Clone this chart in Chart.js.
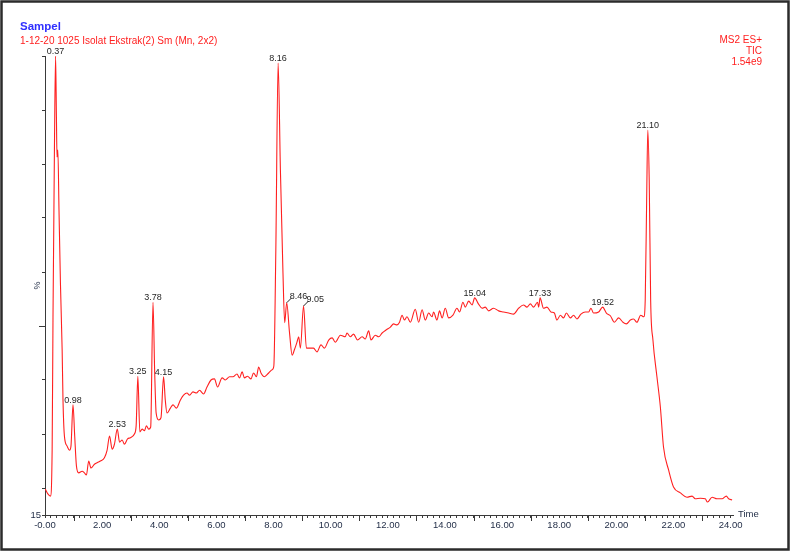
<!DOCTYPE html>
<html>
<head>
<meta charset="utf-8">
<script src="https://cdn.jsdelivr.net/npm/chart.js@4.4.1/dist/chart.umd.min.js"></script>
<style>
  body { margin: 0; background: #fff; }
  canvas { display: block; }
</style>
</head>
<body>
<canvas id="myChart" width="790" height="551"></canvas>
<script>
// retention time (min)
const times = [
  0.01, 0.10, 0.19, 0.25, 0.28, 0.33, 0.37, 0.40, 0.42, 0.45,
  0.49, 0.54, 0.60, 0.63, 0.68, 0.77, 0.86, 0.91, 0.98, 1.04,
  1.10, 1.18, 1.30, 1.38, 1.45, 1.53, 1.61, 1.73, 1.87, 1.94,
  2.08, 2.17, 2.26, 2.35, 2.43, 2.53, 2.61, 2.70, 2.78, 2.89,
  2.99, 3.13, 3.19, 3.25, 3.32, 3.40, 3.48, 3.55, 3.63, 3.70,
  3.78, 3.84, 3.89, 3.98, 4.06, 4.15, 4.21, 4.27, 4.39, 4.48,
  4.60, 4.74, 4.85, 4.97, 5.06, 5.18, 5.30, 5.41, 5.55, 5.67,
  5.81, 5.93, 6.04, 6.20, 6.31, 6.46, 6.58, 6.72, 6.81, 6.90,
  6.98, 7.09, 7.21, 7.30, 7.40, 7.48, 7.56, 7.68, 7.83, 7.95,
  8.01, 8.08, 8.16, 8.24, 8.33, 8.39, 8.46, 8.56, 8.65, 8.73,
  8.82, 8.88, 8.94, 9.05, 9.15, 9.29, 9.40, 9.52, 9.66, 9.78,
  9.93, 10.05, 10.16, 10.34, 10.51, 10.57, 10.69, 10.80, 10.94, 11.10,
  11.21, 11.33, 11.41, 11.56, 11.68, 11.80, 11.95, 12.09, 12.20, 12.32,
  12.41, 12.50, 12.58, 12.67, 12.79, 12.96, 13.08, 13.20, 13.31, 13.43,
  13.55, 13.60, 13.72, 13.81, 13.90, 14.01, 14.13, 14.28, 14.42, 14.51,
  14.63, 14.71, 14.83, 14.95, 15.04, 15.17, 15.30, 15.41, 15.53, 15.70,
  15.88, 16.05, 16.23, 16.40, 16.58, 16.75, 16.87, 16.99, 17.10, 17.24,
  17.28, 17.33, 17.45, 17.57, 17.71, 17.83, 17.92, 18.04, 18.15, 18.25,
  18.39, 18.50, 18.62, 18.76, 18.91, 19.03, 19.11, 19.20, 19.38, 19.52,
  19.65, 19.79, 19.93, 20.08, 20.23, 20.35, 20.49, 20.60, 20.72, 20.85,
  20.96, 21.01, 21.06, 21.10, 21.15, 21.20, 21.28, 21.42, 21.54, 21.65,
  21.83, 22.00, 22.24, 22.47, 22.65, 22.76, 22.94, 23.11, 23.19, 23.35,
  23.52, 23.70, 23.85, 23.93, 24.05
];
// relative intensity (%)
const intensity = [
  19.8, 18.9, 18.5, 27.0, 51.7, 82.6, 100, 88.7, 81.3, 82.6,
  71.5, 58.0, 45.6, 36.3, 29.6, 27.8, 27.0, 27.8, 35.4, 29.6,
  24.1, 22.8, 23.1, 22.8, 22.4, 25.0, 23.7, 24.4, 24.8, 25.0,
  25.6, 26.9, 29.6, 27.2, 28.1, 30.9, 28.5, 28.9, 28.1, 29.1,
  29.3, 30.0, 31.5, 40.7, 30.4, 30.9, 30.6, 31.5, 30.9, 31.3,
  54.4, 41.3, 33.9, 32.6, 33.0, 40.6, 36.3, 33.9, 34.8, 35.4,
  34.8, 36.3, 37.2, 37.6, 37.2, 37.8, 37.6, 38.1, 37.4, 38.7,
  40.0, 40.2, 38.7, 40.4, 40.0, 40.6, 40.6, 41.1, 40.4, 41.5,
  40.4, 40.7, 40.2, 41.3, 40.6, 42.4, 41.3, 40.6, 41.3, 41.9,
  42.6, 64.1, 98.7, 78.9, 59.8, 50.6, 54.3, 48.7, 44.6, 45.6,
  47.0, 48.0, 45.9, 53.7, 45.9, 45.9, 45.9, 45.2, 46.5, 45.9,
  47.4, 47.8, 47.0, 48.3, 48.0, 48.7, 48.0, 48.5, 47.4, 48.0,
  47.6, 49.1, 47.4, 48.3, 48.0, 48.7, 49.3, 49.8, 50.4, 50.2,
  50.7, 52.0, 51.1, 51.7, 50.7, 53.1, 50.7, 53.0, 51.1, 52.4,
  51.7, 52.6, 51.1, 52.8, 51.5, 53.3, 51.5, 52.0, 53.3, 52.6,
  54.4, 53.5, 54.6, 53.9, 55.2, 54.1, 53.3, 53.5, 52.8, 53.3,
  52.8, 52.6, 52.4, 52.2, 53.3, 53.9, 53.5, 54.1, 53.5, 54.4,
  53.5, 55.2, 53.3, 53.5, 52.6, 52.4, 51.1, 52.0, 51.5, 52.4,
  51.5, 52.0, 51.3, 52.2, 52.6, 52.6, 53.3, 52.4, 52.6, 53.5,
  52.4, 51.9, 50.7, 51.5, 50.7, 50.4, 51.1, 51.3, 50.7, 52.0,
  51.7, 54.8, 73.3, 86.3, 77.0, 54.8, 47.4, 40.6, 35.0, 27.6,
  23.3, 20.2, 19.1, 18.3, 18.5, 18.0, 18.1, 18.0, 17.4, 18.3,
  18.0, 18.0, 18.5, 18.0, 17.8
];

// labelled peaks
const peakLabels = ['0.37', '0.98', '2.53', '3.25', '3.78', '4.15', '8.16', '8.46', '9.05', '15.04', '17.33', '19.52', '21.10'];
const leaderPeaks = ['8.46', '9.05'];

// axis labels
const xTickLabels = ['-0.00', '2.00', '4.00', '6.00', '8.00', '10.00', '12.00', '14.00', '16.00', '18.00', '20.00', '22.00', '24.00'];
const yTickLabels = ['15'];
const headerLeft = ['Sampel', '1-12-20 1025 Isolat Ekstrak(2) Sm (Mn, 2x2)'];
const headerRight = ['MS2 ES+', 'TIC', '1.54e9'];

const FONT = "'Liberation Sans', Arial, sans-serif";
const RED = '#ff2020';
const AXIS = '#3a3a3a';
const LABEL = '#1e2a44';

const points = times.map((t, i) => ({ x: t, y: intensity[i] }));

// frame, header, peak labels, extra ticks
const decorPlugin = {
  id: 'decor',
  beforeDraw(chart) {
    const c = chart.ctx;
    c.save();
    c.fillStyle = '#fff';
    c.fillRect(0, 0, chart.width, chart.height);
    c.strokeStyle = '#2b2b2b';
    c.lineWidth = 2.5;
    c.strokeRect(1.5, 1.5, chart.width - 3, chart.height - 3);
    c.restore();
  },
  afterDraw(chart) {
    const c = chart.ctx;
    const xs = chart.scales.x, ys = chart.scales.y;
    const area = chart.chartArea;
    c.save();
    // header
    c.textBaseline = 'middle';
    c.textAlign = 'left';
    c.fillStyle = '#2f2fff';
    c.font = 'bold 11.5px ' + FONT;
    c.fillText(headerLeft[0], 20, 27);
    c.fillStyle = RED;
    c.font = '10px ' + FONT;
    c.fillText(headerLeft[1], 20, 41);
    c.textAlign = 'right';
    headerRight.forEach((s, i) => c.fillText(s, 762, 40 + i * 11));

    // longer ticks on odd minutes
    c.strokeStyle = AXIS;
    c.lineWidth = 1;
    c.beginPath();
    for (let m = 1; m <= 23; m += 2) {
      const px = Math.round(xs.getPixelForValue(m)) + 0.5;
      c.moveTo(px, area.bottom);
      c.lineTo(px, area.bottom + 6);
    }
    const p50 = Math.round(ys.getPixelForValue(50)) + 0.5;
    c.moveTo(area.left, p50);
    c.lineTo(area.left - 6, p50);
    c.stroke();

    // x axis title
    c.fillStyle = LABEL;
    c.font = '9.5px ' + FONT;
    c.textAlign = 'left';
    c.textBaseline = 'middle';
    c.fillText('Time', 738, area.bottom - 1);

    // peak labels
    c.fillStyle = '#262626';
    c.font = '9px ' + FONT;
    peakLabels.forEach(lbl => {
      const t = parseFloat(lbl);
      let best = 0;
      times.forEach((v, i) => { if (Math.abs(v - t) < Math.abs(times[best] - t)) best = i; });
      const px = xs.getPixelForValue(times[best]);
      const py = ys.getPixelForValue(intensity[best]);
      if (leaderPeaks.includes(lbl)) {
        c.strokeStyle = '#262626';
        c.beginPath();
        c.moveTo(px, py);
        c.lineTo(px + 5, py - 5);
        c.stroke();
        c.textAlign = 'left';
        c.textBaseline = 'alphabetic';
        c.fillText(lbl, px + 3, py - 4);
      } else {
        c.textAlign = 'center';
        c.textBaseline = 'alphabetic';
        c.fillText(lbl, px, py - 2);
      }
    });
    c.restore();
  }
};

const config = {
  type: 'line',
  data: {
    datasets: [{
      label: 'TIC',
      data: points,
      borderColor: RED,
      borderWidth: 1.1,
      pointRadius: 0,
      cubicInterpolationMode: 'monotone',
      fill: false
    }]
  },
  options: {
    responsive: false,
    animation: false,
    devicePixelRatio: 1,
    layout: { padding: { left: 30, right: 56.5, top: 56, bottom: 0 } },
    plugins: {
      legend: { display: false },
      tooltip: { enabled: false }
    },
    scales: {
      x: {
        type: 'linear',
        min: 0,
        max: 24.1,
        afterFit(s) { s.height = 36; },
        afterBuildTicks(s) {
          const ticks = [];
          for (let i = 0; i <= 120; i++) ticks.push({ value: i / 5 });
          s.ticks = ticks;
        },
        border: { color: AXIS, width: 1 },
        grid: {
          drawOnChartArea: false,
          drawTicks: true,
          tickLength: 3,
          tickColor: AXIS
        },
        ticks: {
          autoSkip: false,
          maxRotation: 0,
          padding: 2,
          color: LABEL,
          font: { family: FONT, size: 9.5 },
          callback: v => {
            const k = Math.round(v / 2);
            return Math.abs(v - k * 2) < 1e-6 ? xTickLabels[k] : '';
          }
        }
      },
      y: {
        type: 'linear',
        min: 15,
        max: 100,
        afterFit(s) { s.width = 15; },
        border: { color: AXIS, width: 1 },
        grid: { drawOnChartArea: false, tickLength: 3, tickColor: AXIS },
        title: {
          display: true,
          text: '%',
          color: LABEL,
          padding: { top: 2, bottom: 0 },
          font: { family: FONT, size: 9 }
        },
        ticks: {
          stepSize: 10,
          autoSkip: false,
          padding: 1,
          color: LABEL,
          font: { family: FONT, size: 9.5 },
          callback: v => (v === 15 ? yTickLabels[0] : '')
        }
      }
    }
  },
  plugins: [decorPlugin]
};

const myChart = new Chart(document.getElementById('myChart'), config);
</script>
</body>
</html>
